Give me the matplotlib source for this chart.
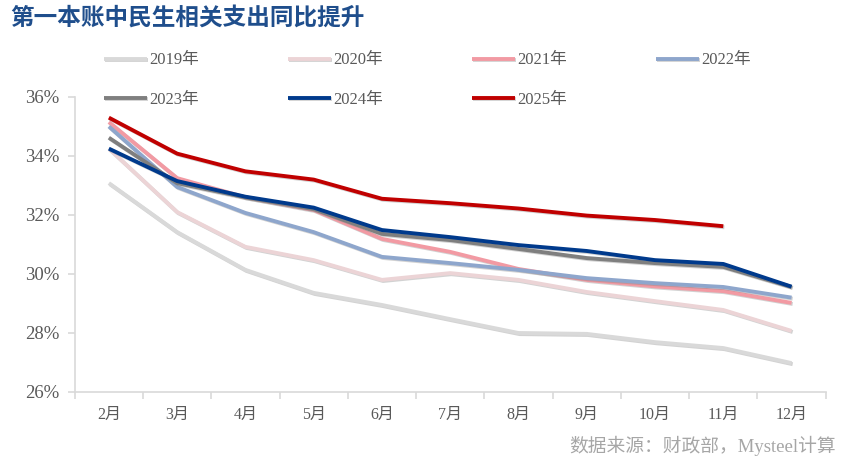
import matplotlib
matplotlib.use('Agg')
import matplotlib.pyplot as plt
import matplotlib.patheffects as pe

plt.rcParams['font.family'] = ['Liberation Serif', 'Noto Sans CJK SC']

# Data
months = ['2月', '3月', '4月', '5月', '6月', '7月', '8月', '9月', '10月', '11月', '12月']
y2019 = [33.08, 31.42, 30.14, 29.36, 28.95, 28.47, 28.00, 27.97, 27.69, 27.49, 26.98]
y2020 = [34.25, 32.10, 30.92, 30.47, 29.80, 30.03, 29.80, 29.39, 29.08, 28.78, 28.07]
y2021 = [35.15, 33.25, 32.60, 32.17, 31.19, 30.75, 30.17, 29.80, 29.58, 29.42, 29.02]
y2022 = [35.00, 32.95, 32.07, 31.42, 30.58, 30.37, 30.14, 29.86, 29.69, 29.56, 29.20]
y2023 = [34.62, 33.08, 32.60, 32.20, 31.36, 31.15, 30.85, 30.54, 30.37, 30.24, 29.56]
y2024 = [34.25, 33.15, 32.62, 32.25, 31.49, 31.25, 30.98, 30.78, 30.47, 30.34, 29.57]
y2025 = [35.30, 34.08, 33.48, 33.20, 32.55, 32.40, 32.22, 31.98, 31.83, 31.62]

series = [
    ('2019年', y2019, '#d9d9d9'),
    ('2020年', y2020, '#ecd4d6'),
    ('2021年', y2021, '#f29aa3'),
    ('2022年', y2022, '#8ea6cc'),
    ('2023年', y2023, '#7f7f7f'),
    ('2024年', y2024, '#003a8c'),
    ('2025年', y2025, '#c00000'),
]

fig = plt.figure(figsize=(8.53, 4.67), dpi=100)
ax = fig.add_axes([0.0876, 0.1606, 0.8804, 0.6317])

shadow = [pe.SimpleLineShadow(offset=(0.8, -0.8), shadow_color='gray', alpha=0.35),
          pe.Normal()]
lines = []
for name, vals, col in series:
    ln, = ax.plot(months[:len(vals)], vals, color=col, lw=2.8, label=name,
                  solid_capstyle='butt', path_effects=shadow)
    lines.append(ln)

ax.set_xlim(-0.5, len(months) - 0.5)
ax.set_ylim(26, 36)
ax.set_yticks([26, 28, 30, 32, 34, 36])
ax.set_yticklabels([f'{t}%' for t in [26, 28, 30, 32, 34, 36]])
ax.set_xticks(range(len(months)))
ax.set_xticklabels(months)
ax.set_xticks([i - 0.5 for i in range(len(months) + 1)], minor=True)

for s in ['top', 'right']:
    ax.spines[s].set_visible(False)
for s in ['left', 'bottom']:
    ax.spines[s].set_color('#d9d9d9')
    ax.spines[s].set_linewidth(1.2)
ax.tick_params(axis='y', colors='#d9d9d9', labelcolor='#595959', labelsize=13.5,
               length=5, width=1.2, pad=6)
ax.tick_params(axis='x', which='major', length=0, labelcolor='#595959',
               labelsize=11.5, pad=11)
ax.tick_params(axis='x', which='minor', length=5, width=1.2, colors='#d9d9d9',
               direction='out')

# legend filled column-wise, so reorder to read row by row
order = [0, 4, 1, 5, 2, 6, 3]
fig.legend([lines[i] for i in order], [series[i][0] for i in order],
           loc='upper left', bbox_to_anchor=(0.114, 0.902), ncol=4, frameon=False,
           fontsize=12, handlelength=2.6, handletextpad=0.15,
           columnspacing=5.3, labelspacing=1.4, borderaxespad=0,
           labelcolor='#595959')

fig.text(0.012, 0.962, '第一本账中民生相关支出同比提升', fontsize=17, fontweight='bold',
         color='#1f4e8c', family=['Noto Sans CJK SC'], va='center')
fig.text(0.98, 0.046, '数据来源：财政部，Mysteel计算', fontsize=13.5, color='#a6a6a6',
         ha='right', va='center')

fig.savefig('out.png', dpi=100)
